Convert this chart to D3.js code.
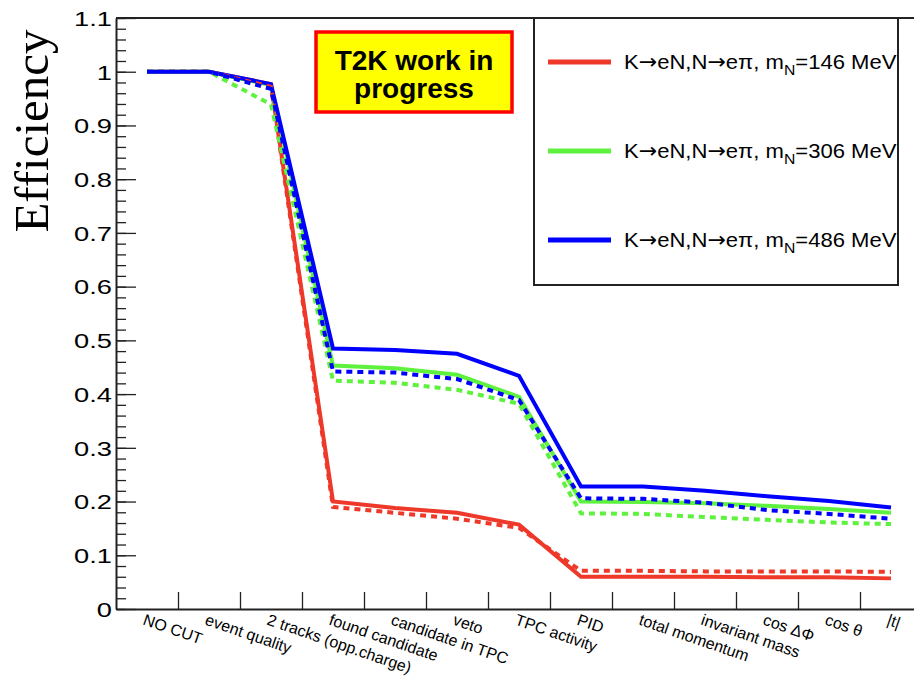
<!DOCTYPE html>
<html>
<head>
<meta charset="utf-8">
<script src="https://cdn.jsdelivr.net/npm/d3@7/dist/d3.min.js"></script>
<style>
  html, body { margin: 0; padding: 0; background: #fff; }
  svg { display: block; }
  text { font-family: "Liberation Sans", Arial, Helvetica, sans-serif; fill: #000; }
</style>
</head>
<body>
<svg id="chart" width="914" height="678"></svg>
<script>
// Selection cuts, in the order they are applied
const categories = [
  "NO CUT", "event quality", "2 tracks (opp.charge)", "found candidate",
  "candidate in TPC", "veto", "TPC activity", "PID", "total momentum",
  "invariant mass", "cos \u0394\u03A6", "cos \u03B8", "|t|"
];

// Cumulative efficiency after each cut (solid and dashed curves per mass)
const eff146Solid  = [1, 1, 0.977, 0.200, 0.188, 0.179, 0.157, 0.060, 0.060, 0.060, 0.059, 0.059, 0.057];
const eff146Dashed = [1, 1, 0.972, 0.190, 0.179, 0.168, 0.151, 0.071, 0.071, 0.070, 0.070, 0.070, 0.069];
const eff306Solid  = [1, 1, 0.975, 0.453, 0.448, 0.436, 0.395, 0.200, 0.199, 0.197, 0.192, 0.186, 0.179];
const eff306Dashed = [1, 1, 0.939, 0.425, 0.421, 0.408, 0.382, 0.178, 0.177, 0.171, 0.166, 0.161, 0.158];
const eff486Solid  = [1, 1, 0.977, 0.485, 0.482, 0.475, 0.434, 0.228, 0.228, 0.220, 0.210, 0.201, 0.189];
const eff486Dashed = [1, 1, 0.968, 0.442, 0.440, 0.428, 0.389, 0.206, 0.205, 0.198, 0.184, 0.177, 0.168];

const massLabels = ["146", "306", "486"];
const yTicks = [0, 0.1, 0.2, 0.3, 0.4, 0.5, 0.6, 0.7, 0.8, 0.9, 1, 1.1];

const colors = { m146: "#ee3829", m306: "#5ef23e", m486: "#0000ff" };

const series = [
  { values: eff146Solid,  color: colors.m146, dashed: false },
  { values: eff306Solid,  color: colors.m306, dashed: false },
  { values: eff486Solid,  color: colors.m486, dashed: false },
  { values: eff146Dashed, color: colors.m146, dashed: true },
  { values: eff306Dashed, color: colors.m306, dashed: true },
  { values: eff486Dashed, color: colors.m486, dashed: true }
];

const svg = d3.select("#chart");
const frame = { left: 116, right: 922, top: 18, bottom: 609 };

const x = d3.scaleBand().domain(categories).range([frame.left, frame.right]).padding(0);
const xc = c => x(c) + x.bandwidth() / 2;
const y = d3.scaleLinear().domain([0, 1.1]).range([frame.bottom, frame.top]);

// Frame top edge
svg.append("line")
  .attr("x1", frame.left).attr("x2", frame.right)
  .attr("y1", frame.top).attr("y2", frame.top)
  .attr("stroke", "#222").attr("stroke-width", 2);

// Y axis: minor ticks, then major ticks with labels
const yMinor = d3.range(0, 1.1001, 0.02);
svg.append("g")
  .attr("transform", `translate(${frame.left},0)`)
  .call(d3.axisLeft(y).tickValues(yMinor).tickSize(-10).tickSizeOuter(0).tickFormat(""))
  .call(g => g.select(".domain").remove())
  .call(g => g.selectAll("line").attr("stroke", "#222").attr("stroke-width", 1.3));

const yAxis = svg.append("g")
  .attr("transform", `translate(${frame.left},0)`)
  .call(d3.axisLeft(y).tickValues(yTicks).tickSize(-20).tickSizeOuter(0)
    .tickFormat(d => String(+d.toFixed(1))));
yAxis.select(".domain").attr("stroke", "#222").attr("stroke-width", 2);
yAxis.selectAll("line").attr("stroke", "#222").attr("stroke-width", 1.3);
// labels are drawn slightly widened, right-aligned against the axis
yAxis.selectAll("text")
  .attr("x", null).attr("dy", null)
  .attr("text-anchor", "end")
  .attr("dominant-baseline", "central")
  .attr("transform", "translate(-4,0) scale(1.3,1)")
  .style("font-family", "'Liberation Sans', Arial, sans-serif")
  .style("font-size", "21px").attr("fill", "#000");

// X axis: ticks on the bin edges
const edgeScale = d3.scaleLinear().domain([0, categories.length]).range([frame.left, frame.right]);
const xAxis = svg.append("g")
  .attr("transform", `translate(0,${frame.bottom})`)
  .call(d3.axisBottom(edgeScale).tickValues(d3.range(1, categories.length)).tickSize(-17)
    .tickSizeOuter(0).tickFormat(""));
xAxis.select(".domain").attr("stroke", "#222").attr("stroke-width", 2);
xAxis.selectAll("line").attr("stroke", "#222").attr("stroke-width", 1.3);

// Cut names, slanted under each bin
svg.append("g").selectAll("text")
  .data(categories)
  .join("text")
  .attr("transform", d => `translate(${xc(d) - 1},${frame.bottom + 4}) rotate(19)`)
  .attr("dy", "0.75em")
  .style("font-size", "16px")
  .text(d => d);

// Y title
svg.append("text")
  .attr("transform", "translate(48,131) rotate(-90)")
  .attr("text-anchor", "middle")
  .style("font-family", "'Liberation Serif', 'Times New Roman', serif")
  .style("font-size", "49px")
  .text("Efficiency");

// Efficiency curves
const line = d3.line()
  .x((d, i) => xc(categories[i]))
  .y(d => y(d));

svg.append("g").selectAll("path")
  .data(series)
  .join("path")
  .attr("d", d => line(d.values))
  .attr("fill", "none")
  .attr("stroke", d => d.color)
  .attr("stroke-width", 4)
  .attr("stroke-linejoin", "miter")
  .attr("stroke-dasharray", d => d.dashed ? "6,5" : null);

// "work in progress" banner
const banner = svg.append("g");
banner.append("rect")
  .attr("x", 316).attr("y", 32).attr("width", 196).attr("height", 80)
  .attr("fill", "#ffff00").attr("stroke", "#ff0000").attr("stroke-width", 3.5);
banner.append("text")
  .attr("x", 414).attr("y", 70).attr("text-anchor", "middle")
  .style("font-size", "28px").style("font-weight", "bold")
  .text("T2K work in");
banner.append("text")
  .attr("x", 414).attr("y", 98).attr("text-anchor", "middle")
  .style("font-size", "28px").style("font-weight", "bold")
  .text("progress");

// Legend
const legend = svg.append("g");
legend.append("rect")
  .attr("x", 534).attr("y", 18).attr("width", 364).attr("height", 267)
  .attr("fill", "#fff").attr("stroke", "#222").attr("stroke-width", 2);

const legendRows = [
  { mass: massLabels[0], color: colors.m146 },
  { mass: massLabels[1], color: colors.m306 },
  { mass: massLabels[2], color: colors.m486 }
];
const legendY = d3.scalePoint().domain(massLabels).range([62, 240]);

const rows = legend.selectAll("g.row")
  .data(legendRows)
  .join("g")
  .attr("class", "row")
  .attr("transform", d => `translate(0,${legendY(d.mass)})`);

rows.append("line")
  .attr("x1", 548).attr("x2", 611)
  .attr("stroke", d => d.color).attr("stroke-width", 5);

const arrow = "\u2192";
const label = rows.append("text")
  .attr("transform", "translate(624,7) scale(1.05,1)")
  .style("font-size", "21px");
label.append("tspan").text("K");
label.append("tspan").style("font-family", "'DejaVu Sans', sans-serif").text(arrow);
label.append("tspan").text("eN,N");
label.append("tspan").style("font-family", "'DejaVu Sans', sans-serif").text(arrow);
label.append("tspan").text("e\u03C0, m");
label.append("tspan").attr("dy", 6).style("font-size", "15px").text("N");
label.append("tspan").attr("dy", -6).text(d => `=${d.mass} MeV`);
</script>
</body>
</html>
